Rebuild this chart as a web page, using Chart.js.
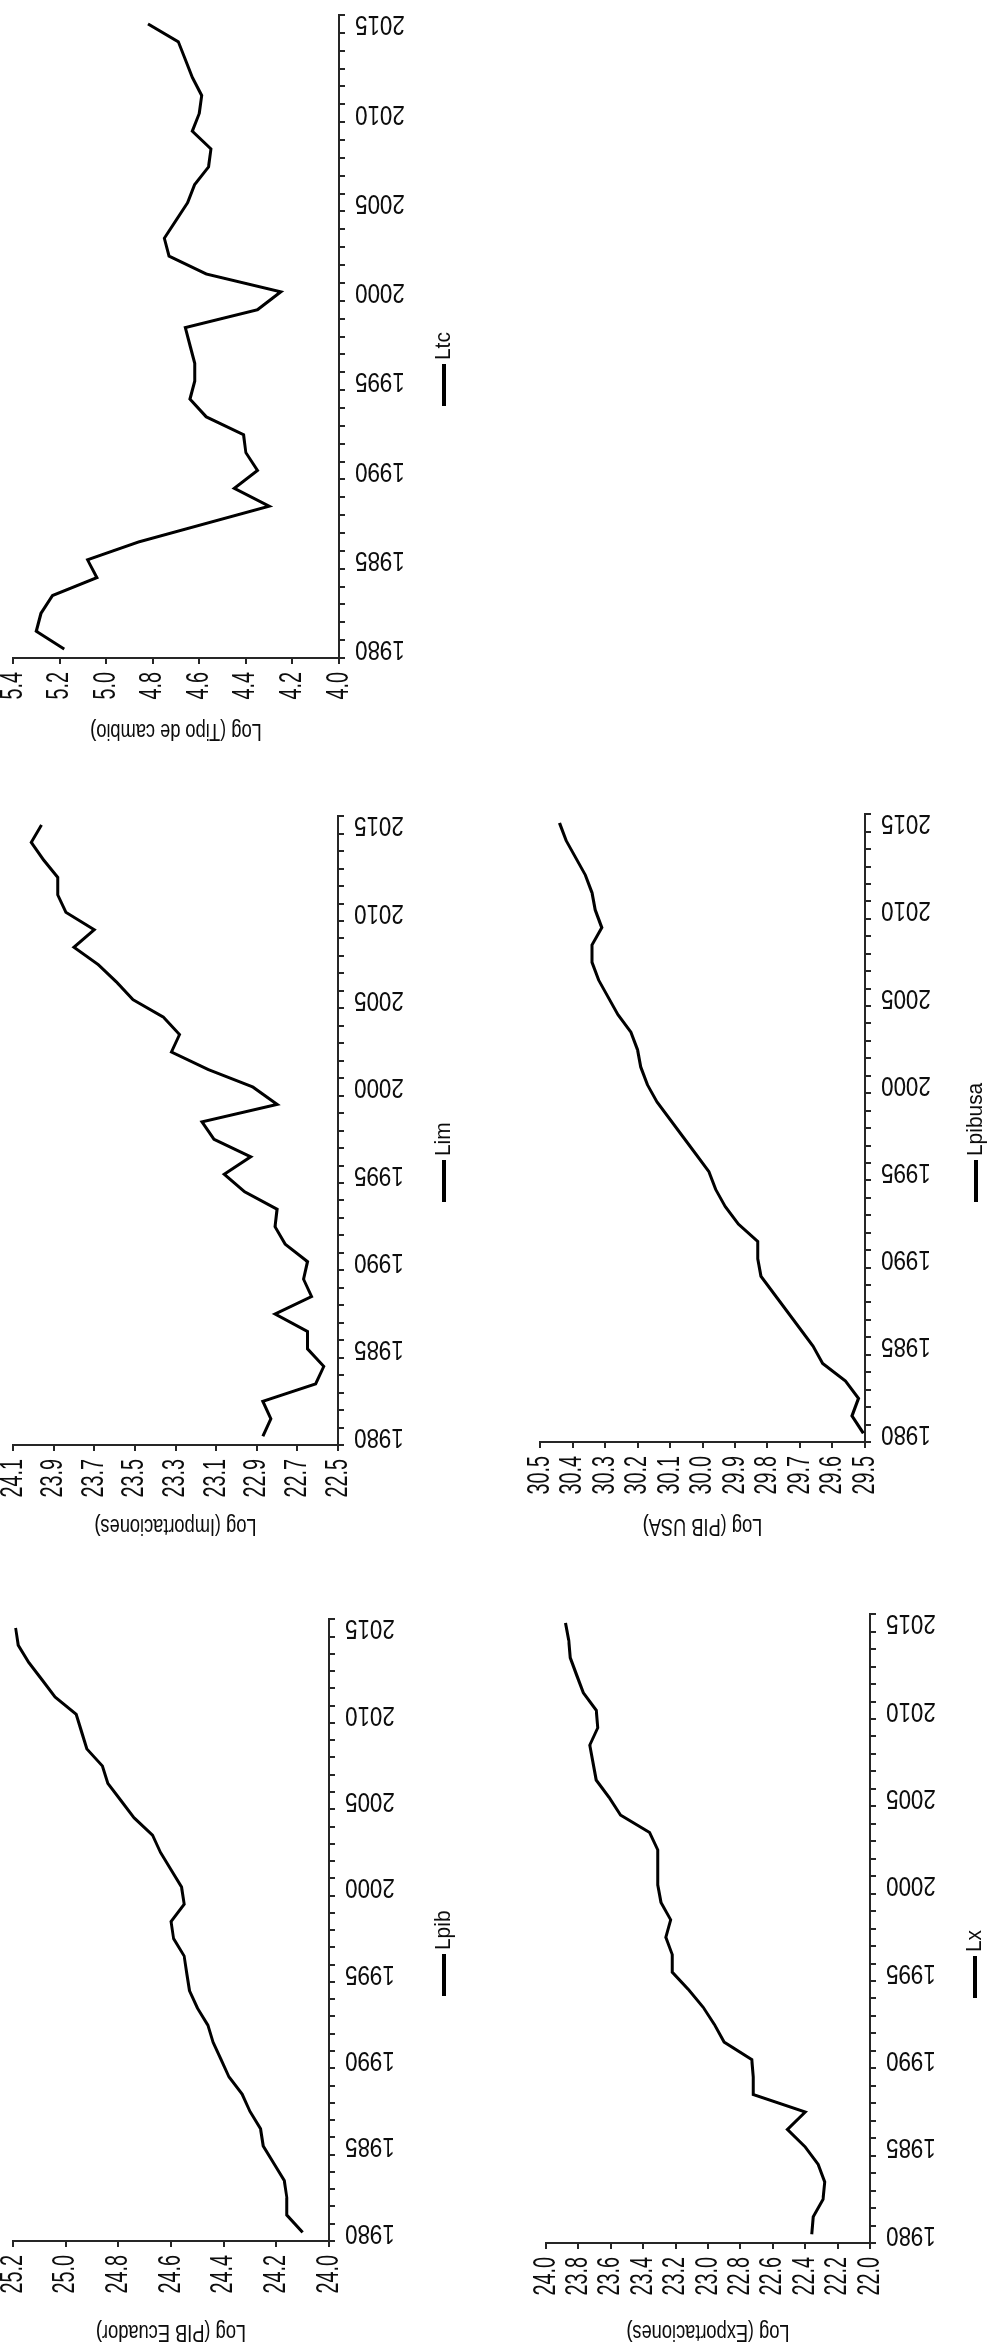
<!DOCTYPE html>
<html>
<head>
<meta charset="utf-8">
<script src="https://cdn.jsdelivr.net/npm/chart.js@4.4.1/dist/chart.umd.min.js"></script>
<style>
html,body{margin:0;padding:0;background:#fff;}
body{width:993px;height:2348px;overflow:hidden;position:relative;}
#page{position:absolute;left:0;top:0;width:2348px;height:993px;transform-origin:0 0;transform:translateY(2348px) rotate(-90deg);}
#page canvas{position:absolute;}
</style>
</head>
<body>
<div id="page"></div>
<script>
// ---------- data ----------
const years = [1980,1981,1982,1983,1984,1985,1986,1987,1988,1989,1990,1991,1992,1993,1994,1995,1996,1997,1998,1999,2000,2001,2002,2003,2004,2005,2006,2007,2008,2009,2010,2011,2012,2013,2014,2015];

const lpib = [24.10,24.16,24.16,24.17,24.21,24.25,24.26,24.30,24.33,24.38,24.41,24.44,24.46,24.50,24.53,24.54,24.55,24.59,24.60,24.55,24.56,24.60,24.64,24.67,24.74,24.79,24.84,24.86,24.92,24.94,24.96,25.04,25.09,25.14,25.18,25.19];
const lim = [22.87,22.83,22.87,22.61,22.57,22.65,22.65,22.81,22.63,22.67,22.65,22.76,22.81,22.80,22.96,23.06,22.93,23.11,23.17,22.80,22.92,23.14,23.32,23.28,23.36,23.51,23.59,23.68,23.80,23.70,23.84,23.88,23.88,23.95,24.01,23.96];
const ltc = [5.18,5.30,5.28,5.23,5.04,5.08,4.86,4.58,4.30,4.45,4.35,4.40,4.41,4.57,4.64,4.62,4.62,4.64,4.66,4.35,4.25,4.57,4.73,4.75,4.70,4.65,4.62,4.56,4.55,4.63,4.60,4.59,4.63,4.66,4.69,4.82];
const lx = [22.36,22.35,22.29,22.28,22.32,22.40,22.51,22.40,22.72,22.72,22.73,22.90,22.96,23.03,23.12,23.22,23.22,23.26,23.23,23.29,23.31,23.31,23.31,23.36,23.54,23.61,23.69,23.71,23.73,23.68,23.69,23.77,23.81,23.85,23.86,23.88];
const lpibusa = [29.505,29.54,29.52,29.56,29.63,29.66,29.70,29.74,29.78,29.82,29.83,29.83,29.89,29.93,29.96,29.98,30.02,30.06,30.10,30.14,30.17,30.19,30.20,30.22,30.26,30.29,30.32,30.34,30.34,30.31,30.33,30.34,30.36,30.39,30.42,30.44];

const lpibTicks = [24.0,24.2,24.4,24.6,24.8,25.0,25.2];
const limTicks = [22.5,22.7,22.9,23.1,23.3,23.5,23.7,23.9,24.1];
const ltcTicks = [4.0,4.2,4.4,4.6,4.8,5.0,5.2,5.4];
const lxTicks = [22.0,22.2,22.4,22.6,22.8,23.0,23.2,23.4,23.6,23.8,24.0];
const lpibusaTicks = [29.5,29.6,29.7,29.8,29.9,30.0,30.1,30.2,30.3,30.4,30.5];

// ---------- styling / layout (unrotated frame, 2348 x 993) ----------
const FONT = "'Liberation Sans', Arial, sans-serif";
const AX = '#262626';
const TXT = '#0d0d0d';
const X_H = 100;
const PAD_TOP = 33;
const PAD_RIGHT = 24;
const SIZE_YEAR = 28, SIZE_VAL = 31, SIZE_TITLE = 24, SIZE_LEG = 22;
// horizontal condensing of glyphs per font size (the source uses a narrow typeface)
const TEXT_SCALE = {28: 0.80, 31: 0.64, 24: 0.76, 22: 0.95};

const layoutLpib    = {left:107,  right:740,  top:13,  bottom:329, yW:109, legendY:444, legendX:352};
const layoutLim     = {left:903,  right:1543, top:13,  bottom:338, yW:99,  legendY:444, legendX:1146};
const layoutLtc     = {left:1690, right:2344, top:13,  bottom:339, yW:91,  legendY:444, legendX:1942};
const layoutLx      = {left:105,  right:745,  top:546, bottom:870, yW:107, legendY:975, legendX:350};
const layoutLpibusa = {left:906,  right:1545, top:540, bottom:865, yW:102, legendY:976, legendX:1146};

function fontScale(ctx) {
  const m = /(\d+(?:\.\d+)?)px/.exec(ctx.font);
  return m ? (TEXT_SCALE[Math.round(parseFloat(m[1]))] || 1) : 1;
}

function condense(ctx) {
  const orig = ctx.fillText;
  ctx.fillText = function (text, x, y, maxWidth) {
    const k = fontScale(this);
    if (k === 1) return orig.call(this, text, x, y);
    this.save();
    this.translate(x, y);
    this.scale(k, 1);
    orig.call(this, text, 0, 0);
    this.restore();
  };
}

const lineLegend = {
  id: 'lineLegend',
  afterDraw(chart, args, opts) {
    const ctx = chart.ctx;
    const label = chart.data.datasets[0].label;
    ctx.save();
    ctx.font = opts.fontSize + 'px ' + FONT;
    const x0 = opts.x;
    ctx.fillStyle = '#000';
    ctx.fillRect(x0, opts.cy - opts.lineW / 2, opts.lineLen, opts.lineW);
    ctx.fillStyle = TXT;
    ctx.textAlign = 'left';
    ctx.textBaseline = 'middle';
    ctx.fillText(label, x0 + opts.lineLen + opts.gap, opts.cy);
    ctx.restore();
  }
};

const page = document.getElementById('page');

function makeChart(g, label, values, yTicks, yTitle) {
  const cLeft = g.left - g.yW;
  const cTop = g.top - PAD_TOP;
  const cRight = g.right + PAD_RIGHT;
  const cBottom = g.legendY + 30;
  const W = cRight - cLeft, H = cBottom - cTop;
  const canvas = document.createElement('canvas');
  canvas.width = W; canvas.height = H;
  canvas.style.left = cLeft + 'px';
  canvas.style.top = cTop + 'px';
  canvas.style.width = W + 'px';
  canvas.style.height = H + 'px';
  page.appendChild(canvas);
  const ctx = canvas.getContext('2d');
  condense(ctx);

  new Chart(ctx, {
    type: 'line',
    data: {
      labels: years,
      datasets: [{
        label: label,
        data: values,
        borderColor: '#000',
        backgroundColor: '#000',
        borderWidth: 3,
        pointRadius: 0,
        tension: 0,
        fill: false
      }]
    },
    options: {
      responsive: false,
      animation: false,
      devicePixelRatio: 1,
      layout: {padding: {top: PAD_TOP, right: PAD_RIGHT, left: 0, bottom: cBottom - g.bottom - X_H}},
      plugins: {
        legend: {display: false},
        tooltip: {enabled: false},
        lineLegend: {x: g.legendX - cLeft, cy: g.legendY - cTop, lineLen: 42, lineW: 4, gap: 4, fontSize: SIZE_LEG}
      },
      scales: {
        x: {
          type: 'category',
          offset: true,
          grid: {offset: true, drawOnChartArea: false, drawTicks: true, tickLength: 6, color: AX, lineWidth: 2},
          border: {display: true, color: AX, width: 2},
          ticks: {
            autoSkip: false, minRotation: 90, maxRotation: 90, padding: 10,
            color: TXT, font: {family: FONT, size: SIZE_YEAR},
            callback: (v, i) => (years[i] % 5 === 0 ? String(years[i]) : '')
          },
          afterFit: (s) => { s.height = X_H; }
        },
        y: {
          type: 'linear',
          min: yTicks[0],
          max: yTicks[yTicks.length - 1],
          afterBuildTicks: (s) => { s.ticks = yTicks.map(v => ({value: v})); },
          grid: {drawOnChartArea: false, drawTicks: true, tickLength: 6, color: AX, lineWidth: 2},
          border: {display: true, color: AX, width: 2},
          ticks: {autoSkip: false, padding: 8, color: TXT, font: {family: FONT, size: SIZE_VAL}, callback: (v) => Number(v).toFixed(1)},
          title: {display: true, text: yTitle, color: TXT, font: {family: FONT, size: SIZE_TITLE}, padding: {top: 4, bottom: 4}},
          afterFit: (s) => { s.width = g.yW; }
        }
      }
    },
    plugins: [lineLegend]
  });
}

makeChart(layoutLpib, 'Lpib', lpib, lpibTicks, 'Log (PIB Ecuador)');
makeChart(layoutLim, 'Lim', lim, limTicks, 'Log (Importaciones)');
makeChart(layoutLtc, 'Ltc', ltc, ltcTicks, 'Log (Tipo de cambio)');
makeChart(layoutLx, 'Lx', lx, lxTicks, 'Log (Exportaciones)');
makeChart(layoutLpibusa, 'Lpibusa', lpibusa, lpibusaTicks, 'Log (PIB USA)');
</script>
</body>
</html>
